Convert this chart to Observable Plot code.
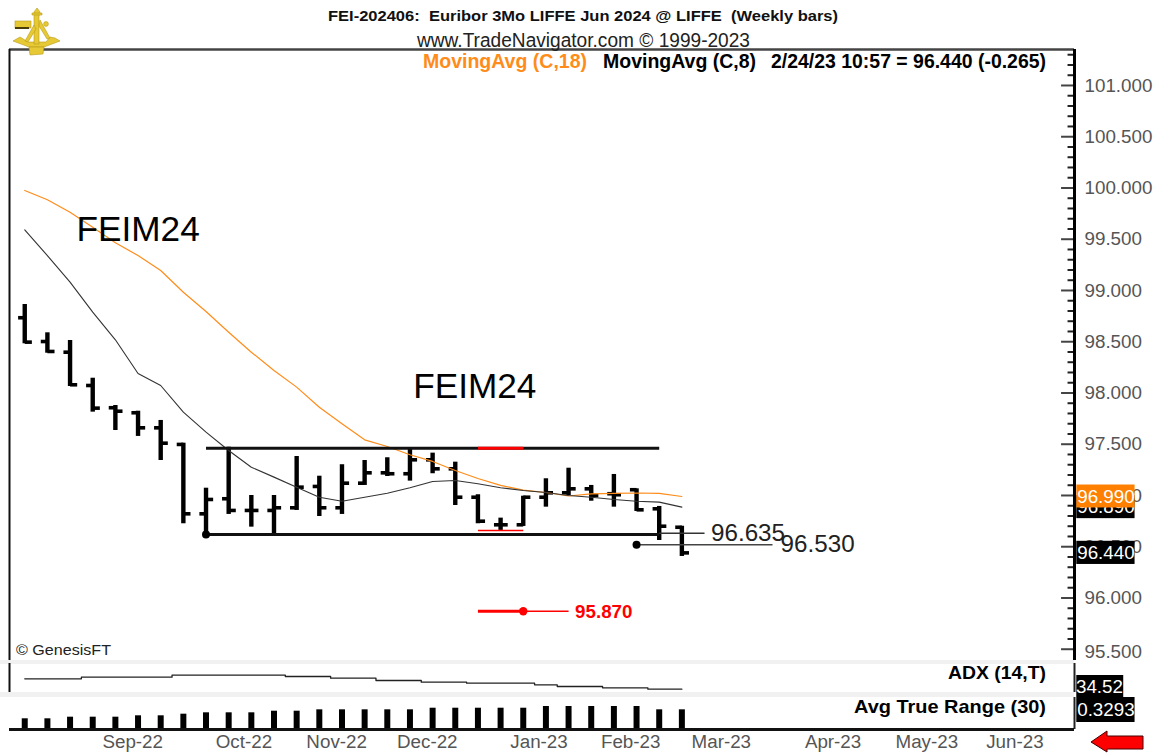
<!DOCTYPE html>
<html><head><meta charset="utf-8">
<script src="https://cdn.jsdelivr.net/npm/d3@7"></script>
<script src="https://cdn.jsdelivr.net/npm/@observablehq/plot@0.6"></script>
<style>
html,body{margin:0;padding:0;background:#fff;overflow:hidden}
#chart{position:relative;width:1153px;height:753px;font-family:"Liberation Sans",Arial,sans-serif;overflow:hidden}
.t{position:absolute;white-space:pre;line-height:1;color:#000}
.band{position:absolute;left:0;width:1074px;background:#f1f1f1}
</style></head><body>
<div id="chart"></div>
<script>
const barDates=["2022-08-05","2022-08-12","2022-08-19","2022-08-26","2022-09-02","2022-09-09","2022-09-16","2022-09-23","2022-09-30","2022-10-07","2022-10-14","2022-10-21","2022-10-28","2022-11-04","2022-11-11","2022-11-18","2022-11-25","2022-12-02","2022-12-09","2022-12-16","2022-12-23","2022-12-30","2023-01-06","2023-01-13","2023-01-20","2023-01-27","2023-02-03","2023-02-10","2023-02-17","2023-02-24"];
const opens=[98.734,98.502,98.398,98.073,97.856,97.807,97.660,97.498,96.821,96.968,96.854,96.854,96.880,97.088,96.880,97.120,97.221,97.212,97.348,97.260,96.983,96.714,96.714,96.983,97.026,97.065,97.017,97.056,96.870,96.690];
const highs=[98.863,98.587,98.512,98.144,97.878,97.822,97.732,97.510,97.071,97.471,97.000,97.000,97.380,97.188,97.300,97.341,97.368,97.456,97.413,97.325,97.007,96.779,96.993,97.163,97.266,97.098,97.205,97.065,96.893,96.700];
const lows=[98.480,98.388,98.063,97.813,97.634,97.576,97.341,96.724,96.580,96.815,96.691,96.626,96.854,96.795,96.815,97.098,97.185,97.140,97.212,96.902,96.724,96.659,96.698,96.886,97.000,96.944,96.886,96.844,96.561,96.405];
const closes=[98.496,98.405,98.080,97.852,97.822,97.660,97.510,96.821,96.961,96.854,96.854,96.880,97.081,96.880,97.120,97.221,97.212,97.348,97.260,96.983,96.749,96.714,96.983,97.026,97.065,97.000,97.007,96.860,96.700,96.440];
const ma18=[99.976,99.885,99.764,99.618,99.465,99.341,99.195,98.983,98.795,98.593,98.398,98.220,98.057,97.861,97.700,97.543,97.478,97.397,97.332,97.244,97.166,97.098,97.052,97.029,96.995,97.015,97.020,97.024,97.020,96.990];
const ma8=[99.592,99.341,99.081,98.788,98.519,98.190,98.073,97.813,97.618,97.439,97.276,97.179,97.081,96.983,96.944,96.983,97.022,97.075,97.137,97.146,97.114,97.075,97.049,97.029,97.000,96.983,96.961,96.944,96.935,96.886];
const adx=[39.30,39.30,39.30,40.04,40.04,40.04,40.04,40.96,40.96,40.96,40.96,40.96,40.36,40.36,39.58,39.58,38.52,38.52,37.74,37.74,37.30,37.30,37.30,36.54,35.76,35.76,35.16,35.16,34.52,34.52];
const atr=[.179,.179,.206,.206,.206,.229,.229,.256,.279,.279,.279,.306,.306,.329,.329,.329,.329,.329,.356,.356,.356,.356,.356,.385,.385,.385,.385,.385,.329,.329];
const monthTicks=["2022-08-29","2022-10-03","2022-10-31","2022-11-28","2023-01-02","2023-01-30","2023-02-27","2023-04-03","2023-05-01","2023-05-29"];
const monthLabels=["Sep-22","Oct-22","Nov-22","Dec-22","Jan-23","Feb-23","Mar-23","Apr-23","May-23","Jun-23"];
const majorTicks=[95.5,96,96.5,97,97.5,98,98.5,99,99.5,100,100.5,101];
const minorTicks=[95.6,95.7,95.8,95.9,96.1,96.2,96.3,96.4,96.6,96.7,96.8,96.9,97.1,97.2,97.3,97.4,97.6,97.7,97.8,97.9,98.1,98.2,98.3,98.4,98.6,98.7,98.8,98.9,99.1,99.2,99.3,99.4,99.6,99.7,99.8,99.9,100.1,100.2,100.3,100.4,100.6,100.7,100.8,100.9,101.1,101.2,101.3];

const D=s=>new Date(s+(s.length>10?"":"T00:00:00Z"));
const bars=barDates.map((s,i)=>({date:D(s),open:opens[i],high:highs[i],low:lows[i],close:closes[i],ma18:ma18[i],ma8:ma8[i],adx:adx[i],atr:atr[i]}));
const DAY=864e5, tickL=2.05*DAY, tickR=2.2*DAY;
const xDomain=[D("2022-07-31T07:00:00Z"),D("2023-06-25T07:00:00Z")];
const xOpt={type:"utc",domain:xDomain,axis:null};
const font='"Liberation Sans",Arial,sans-serif';
const chart=document.getElementById("chart");
const base=(top,h,mt=0,mb=0)=>({width:1153,height:h,marginLeft:9,marginRight:79,marginTop:mt,marginBottom:mb,
  style:{position:"absolute",left:"0",top:top+"px",overflow:"visible",background:"transparent",fontFamily:font}});
const seg=(a,b,y1,y2=y1)=>[{x1:D(a),x2:D(b),y1,y2}];
const lnk=(a,o)=>Plot.link(a,{x1:"x1",x2:"x2",y1:"y1",y2:"y2",...o});
const ohlc=[
  Plot.ruleX(bars,{x:"date",y1:"low",y2:"high",stroke:"#000",strokeWidth:4.4}),
  Plot.link(bars,{x1:d=>new Date(+d.date-tickL),x2:"date",y1:"open",y2:"open",stroke:"#000",strokeWidth:3.6}),
  Plot.link(bars,{x1:"date",x2:d=>new Date(+d.date+tickR),y1:"close",y2:"close",stroke:"#000",strokeWidth:3.6})];

const boxLeft=D("2023-06-26T00:00:00Z"),boxRight=D("2023-07-14T00:00:00Z"),boxMid=D("2023-07-05T00:00:00Z");
const main=Plot.plot({...base(0,660,49,0),
  x:xOpt,
  y:{domain:[95.39,101.351],axis:null},
  marks:[
    Plot.axisY(majorTicks.filter(v=>v>95.5),{anchor:"right",tickSize:0,tickPadding:10,tickFormat:d=>d.toFixed(3),fontSize:18.8,color:"#555",label:null}),
    Plot.axisY([95.5],{anchor:"right",tickSize:0,tickPadding:10,tickFormat:d=>d.toFixed(3),fontSize:18.8,color:"#555",label:null,dy:3}),
    Plot.ruleY([101.351],{stroke:"#444",strokeWidth:2.5}),
    Plot.ruleX([xDomain[0]],{stroke:"#111",strokeWidth:2}),
    Plot.ruleY(minorTicks,{x1:D("2023-06-23T07:00:00Z"),x2:xDomain[1],stroke:"#222",strokeWidth:2}),
    Plot.ruleY(majorTicks,{x1:D("2023-06-21T07:00:00Z"),x2:xDomain[1],stroke:"#444",strokeWidth:2}),
    Plot.ruleX([xDomain[1]],{stroke:"#000",strokeWidth:3}),
    ...ohlc,
    Plot.line(bars,{x:"date",y:"ma18",stroke:"#ff8c1a",strokeWidth:1.2}),
    Plot.line(bars,{x:"date",y:"ma8",stroke:"#333",strokeWidth:1.1}),
    lnk(seg("2022-09-30","2023-02-17",97.46),{stroke:"#111",strokeWidth:3}),
    lnk(seg("2022-12-23","2023-01-06",97.46),{stroke:"#f00",strokeWidth:3}),
    lnk(seg("2022-12-23","2023-01-06",96.659),{stroke:"#f00",strokeWidth:1.6}),
    lnk(seg("2022-09-30","2023-02-17",96.62),{stroke:"#111",strokeWidth:3}),
    lnk(seg("2023-02-17","2023-03-03",96.632),{stroke:"#333",strokeWidth:1.5}),
    Plot.dot([{x:D("2022-09-30"),y:96.62}],{x:"x",y:"y",r:4,fill:"#000"}),
    lnk(seg("2023-02-10","2023-03-24",96.52),{stroke:"#444",strokeWidth:1.6}),
    Plot.dot([{x:D("2023-02-10"),y:96.52}],{x:"x",y:"y",r:4,fill:"#000"}),
    lnk(seg("2022-12-23","2023-01-06",95.87),{stroke:"#f00",strokeWidth:3}),
    lnk(seg("2023-01-06","2023-01-20",95.87),{stroke:"#f00",strokeWidth:1.4}),
    Plot.dot([{x:D("2023-01-06"),y:95.87}],{x:"x",y:"y",r:4.2,fill:"#f00"}),
    Plot.text(["95.870"],{x:D("2023-01-22"),y:95.86,textAnchor:"start",fontSize:18.8,fontWeight:"bold",fill:"#f00"}),
    Plot.text(["FEIM24"],{x:D("2022-08-21"),y:99.595,textAnchor:"start",fontSize:35.2,fill:"#000"}),
    Plot.text(["FEIM24"],{x:D("2022-12-03"),y:98.063,textAnchor:"start",fontSize:35.2,fill:"#000"}),
    Plot.text(["96.635"],{x:D("2023-03-05"),y:96.63,textAnchor:"start",fontSize:24.2,fill:"#222"}),
    Plot.text(["96.530"],{x:D("2023-03-26T12:00:00Z"),y:96.522,textAnchor:"start",fontSize:24.2,fill:"#222"}),
    Plot.rect([{y1:96.886-.112,y2:96.886+.112}],{x1:boxLeft,x2:boxRight,y1:"y1",y2:"y2",fill:"#000"}),
    Plot.text(["96.890"],{x:boxMid,y:96.886,fontSize:18.8,fill:"#fff"}),
    Plot.rect([{y1:96.99-.112,y2:96.99+.112}],{x1:boxLeft,x2:boxRight,y1:"y1",y2:"y2",fill:"#ff8000"}),
    Plot.text(["96.990"],{x:boxMid,y:96.99,fontSize:18.8,fill:"#fff"}),
    Plot.rect([{y1:96.44-.113,y2:96.44+.113}],{x1:boxLeft,x2:boxRight,y1:"y1",y2:"y2",fill:"#000"}),
    Plot.text(["96.440"],{x:boxMid,y:96.44,fontSize:18.8,fill:"#fff"})
  ]});

const adxPlot=Plot.plot({...base(663,29),
  x:xOpt,
  y:{domain:[33.0,46.34],axis:null},
  marks:[
    Plot.ruleX([xDomain[0]],{stroke:"#111",strokeWidth:2}),
    Plot.ruleX([xDomain[1]],{stroke:"#222",strokeWidth:2}),
    Plot.line(bars,{x:"date",y:"adx",curve:"step",stroke:"#222",strokeWidth:1.3}),
    Plot.rect([{y1:30.7,y2:40.82}],{x1:boxLeft,x2:D("2023-07-10T12:00:00Z"),y1:"y1",y2:"y2",fill:"#000"}),
    Plot.text(["34.52"],{x:D("2023-07-03"),y:35.6,fontSize:18.8,fill:"#fff"})
  ]});

const atrPlot=Plot.plot({...base(697,56,0,24),
  x:xOpt,
  y:{domain:[0,.535],axis:null},
  marks:[
    Plot.ruleX([xDomain[1]],{y1:0,y2:.535,stroke:"#222",strokeWidth:2}),
    Plot.ruleX(bars,{x:"date",y1:0,y2:"atr",stroke:"#000",strokeWidth:6}),
    Plot.ruleY([0],{stroke:"#111",strokeWidth:3}),
    Plot.axisX(monthTicks.map(D),{anchor:"bottom",tickSize:0,tickPadding:5,textAnchor:"start",fontSize:18.8,color:"#555",label:null,tickFormat:(d,i)=>monthLabels[i]}),
    Plot.rect([{y1:.117,y2:.535}],{x1:boxLeft,x2:boxRight,y1:"y1",y2:"y2",fill:"#000"}),
    Plot.text(["0.3293"],{x:boxMid,y:.329,fontSize:18.8,fill:"#fff"})
  ]});

[[660,3.5],[692,4.5]].forEach(([t,h])=>{const b=document.createElement("div");b.className="band";b.style.top=t+"px";b.style.height=h+"px";chart.appendChild(b);});
chart.append(main,adxPlot,atrPlot);

const texts=[
 {s:"FEI-202406:  Euribor 3Mo LIFFE Jun 2024 @ LIFFE  (Weekly bars)",x:328,y:8,f:15.5,w:"bold",c:"#111",sx:510},
 {s:"www.TradeNavigator.com © 1999-2023",x:417,y:30,f:20,w:"normal",c:"#222",sx:333},
 {s:"MovingAvg (C,18)",x:423,y:51,f:20,w:"bold",c:"#ff8c1a",sx:164},
 {s:"MovingAvg (C,8)",x:603,y:51,f:20,w:"bold",c:"#000",sx:153},
 {s:"2/24/23 10:57 = 96.440 (-0.265)",x:771,y:51,f:20,w:"bold",c:"#000",sx:275},
 {s:"ADX (14,T)",x:948,y:663,f:19,w:"bold",c:"#000",sx:98},
 {s:"Avg True Range (30)",x:854,y:697,f:19,w:"bold",c:"#000",sx:192},
 {s:"© GenesisFT",x:16,y:643,f:14.8,w:"normal",c:"#222",sx:95}
];
texts.forEach(t=>{
  const e=document.createElement("div");e.className="t";e.textContent=t.s;
  e.style.cssText+=`left:${t.x}px;top:${t.y}px;font-size:${t.f}px;font-weight:${t.w};color:${t.c};transform-origin:0 0`;
  chart.appendChild(e);
  const r=e.getBoundingClientRect().width;
  e.style.transform=`scaleX(${t.sx/r})`;
});

// Sextant logo and the red scroll arrow (decoration)
const deco=document.createElement("div");
deco.innerHTML=`<svg style="position:absolute;left:0;top:0;pointer-events:none" width="1153" height="753">
<g fill="#e6c935" stroke="#b89a18" stroke-width=".6">
<path d="M13 41 L29 47 L44 47 L60 41 L55 38 L50 37 L46 42 L28 42 L20 37 Z"/>
<path d="M29 47 L44 47 L43 54 L30 55 Z"/>
<rect x="15" y="21" width="16" height="7"/>
<path d="M34 12 L37 8 L40 12 L40 15 L39 15 L39 44 L34 44 L34 15 Z"/>
<path d="M32 13 H42 V15 H32Z"/>
<path d="M34 25 L25 41 L28 42 L36 29Z"/>
<path d="M40 20 L50 38 L47 39 L39 26Z"/>
<circle cx="46" cy="24" r="2.4"/>
</g>
<rect x="15" y="27" width="14" height="2" fill="#4a3d08"/>
<path d="M1091 742 L1107 731 L1107 736 L1143 736 L1143 749 L1107 749 L1107 752 Z" fill="#f00" stroke="#400" stroke-width="1"/>
</svg>`;
chart.appendChild(deco);
</script></body></html>
